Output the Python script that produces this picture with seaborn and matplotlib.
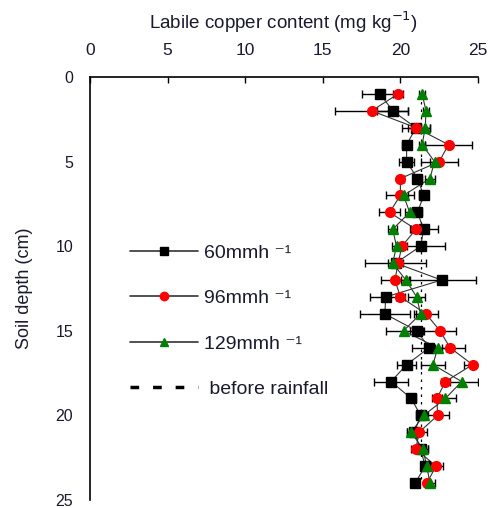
import matplotlib
matplotlib.use("Agg")
import matplotlib.pyplot as plt
from matplotlib.lines import Line2D
import seaborn as sns
import numpy as np
import pandas as pd

depth = list(range(1, 25))
cu_60 = [18.7, 19.5, 21.0, 20.4, 20.4, 21.1, 21.5, 21.1, 21.5, 21.3, 19.7, 22.65,
         19.05, 19.0, 21.05, 21.85, 20.4, 19.4, 20.7, 21.3, 20.9, 21.3, 21.6, 20.95]
err_60 = [1.2, 1.0, 0.9, 0.3, 0.5, 0.3, 0.3, 0.3, 0.9, 1.6, 1.95, 2.25,
          1.0, 1.6, 0.4, 1.1, 0.6, 1.1, 0.3, 0.3, 0.5, 0.5, 0.3, 0.2]
cu_96 = [19.85, 18.15, 21.0, 23.1, 22.5, 20.0, 20.0, 19.3, 21.0, 20.1, 19.85, 19.65,
         20.0, 21.65, 22.55, 23.2, 24.65, 22.9, 22.35, 22.4, 21.2, 21.0, 22.3, 21.7]
err_96 = [0.3, 2.35, 0.5, 1.5, 1.2, 0.2, 0.9, 0.7, 0.3, 0.3, 0.3, 0.9,
          0.3, 0.75, 1.05, 0.95, 0.55, 0.3, 0.3, 0.7, 0.5, 0.3, 0.45, 0.2]
cu_129 = [21.4, 21.65, 21.6, 21.4, 22.2, 21.9, 20.2, 20.6, 19.5, 19.75, 19.5, 20.35,
          21.05, 21.3, 20.2, 22.4, 22.1, 23.95, 22.9, 21.5, 20.7, 21.45, 21.7, 21.9]
err_129 = [0.2, 0.2, 0.3, 0.2, 0.3, 0.3, 0.3, 0.3, 0.3, 0.3, 0.3, 0.3,
           0.55, 0.3, 1.1, 0.3, 0.8, 1.05, 0.7, 0.3, 0.3, 0.3, 0.3, 0.3]
before_rainfall = 21.3

labels = ["60mmh \u207b\u00b9", "96mmh \u207b\u00b9", "129mmh \u207b\u00b9", "before rainfall"]

sns.set_style("white")
plt.rcParams['font.family'] = ['Liberation Sans', 'DejaVu Sans']

fig = plt.figure(figsize=(4.92, 5.08), dpi=100)
ax = fig.add_axes([90/492, 1-500/508, 388/492, 423/508])

series = [
    (cu_60, err_60, 's', 'black'),
    (cu_96, err_96, 'o', 'red'),
    (cu_129, err_129, '^', 'green'),
]

# before rainfall dashed line
ax.plot([before_rainfall, before_rainfall], [depth[0], depth[-1]], color='black',
        lw=0.9, ls=(0, (2, 4)), zorder=1)

for vals, errs, mk, col in series:
    df = pd.DataFrame({"depth": depth, "cu": vals})
    ax.errorbar(vals, depth, xerr=errs, fmt='none', ecolor='black', elinewidth=1.0,
                capsize=3, capthick=1.0, zorder=2)
    sns.lineplot(data=df, x="cu", y="depth", orient="y", sort=False, ax=ax,
                 color='#333333', lw=0.8, marker=None, zorder=3, estimator=None)
    ax.plot(vals, depth, ls='none', marker=mk, color=col, markersize=7,
            markeredgecolor=col, zorder=4)

ax.set_xlim(0, 25)
ax.set_ylim(25, 0)
ax.set_xticks([0, 5, 10, 15, 20, 25])
ax.set_yticks([0, 5, 10, 15, 20, 25])
ax.xaxis.tick_top()
ax.xaxis.set_label_position('top')
ax.tick_params(axis='both', direction='in', length=4, width=1, colors='black',
               labelsize=12.5, labelcolor='#1a1a2e')
ax.tick_params(axis='y', labelsize=11.5, pad=12)
ax.tick_params(axis='x', pad=14)
for s in ['bottom', 'right']:
    ax.spines[s].set_visible(False)
for s in ['top', 'left']:
    ax.spines[s].set_color('black')
    ax.spines[s].set_linewidth(1.2)

ax.set_xlabel("Labile copper content (mg kg$^{-1}$)", fontsize=13.5, labelpad=10,
              color='#1a1a2e')
ax.set_ylabel("Soil depth (cm)", fontsize=13, labelpad=16, color='#1a1a2e')

handles = [
    Line2D([], [], color='#333333', lw=1.2, marker='s', markersize=6,
           markerfacecolor='black', markeredgecolor='black'),
    Line2D([], [], color='#333333', lw=1.2, marker='o', markersize=6,
           markerfacecolor='red', markeredgecolor='red'),
    Line2D([], [], color='#333333', lw=1.2, marker='^', markersize=6,
           markerfacecolor='green', markeredgecolor='green'),
    Line2D([], [], color='black', lw=2.5, ls=(0, (2.5, 4))),
]
labels_disp = labels[:3] + [" " + labels[3]]
leg = ax.legend(handles, labels_disp, loc='upper left', bbox_to_anchor=(0.103, 0.605),
                frameon=False, handlelength=3.5, handletextpad=0.3,
                labelspacing=1.43, borderpad=0, borderaxespad=0, fontsize=14)
for t in leg.get_texts():
    t.set_color('#1a1a2e')

fig.savefig("out.png", dpi=100)
